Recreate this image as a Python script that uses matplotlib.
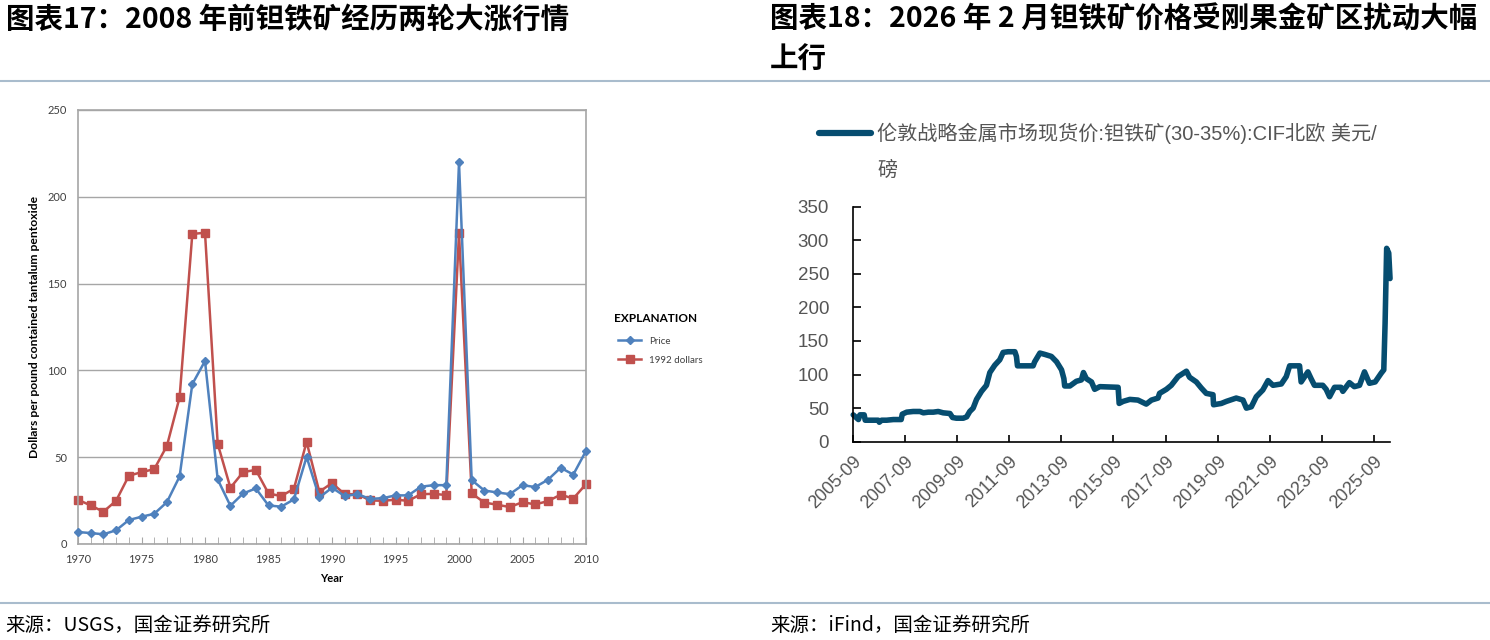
import matplotlib
matplotlib.use('Agg')
import matplotlib.pyplot as plt
from matplotlib.lines import Line2D

plt.rcParams['font.family'] = ['Liberation Sans', 'Noto Sans CJK SC', 'DejaVu Sans']

# ---- left chart data (USGS) ----
years = list(range(1970, 2011))
price = [6.9, 6.3, 5.6, 7.9, 13.8, 15.7, 17.4, 24.1, 38.9, 92.1,
         105.4, 37.2, 22.0, 29.1, 32.0, 22.2, 21.5, 25.7, 50.2, 26.8,
         32.4, 27.6, 28.7, 26.0, 26.4, 28.0, 28.0, 33.0, 33.9, 33.9,
         219.8, 36.8, 30.8, 29.7, 28.7, 33.9, 32.8, 37.0, 43.9, 40.0, 53.6]
dollars_1992 = [25.5, 22.2, 18.6, 24.9, 39.3, 41.4, 43.1, 56.5, 84.5, 178.6,
                179.3, 57.7, 32.4, 41.4, 42.7, 29.1, 27.6, 31.8, 58.8, 30.1,
                35.1, 28.7, 28.7, 25.1, 24.9, 25.5, 24.9, 28.7, 28.9, 28.2,
                179.0, 29.1, 23.9, 22.6, 21.3, 24.1, 22.8, 24.7, 28.4, 26.2, 34.5]

# ---- right chart data (iFind), decimal years ----
t_dates = [2005.77, 2005.97, 2006.03, 2006.19, 2006.23, 2006.73, 2006.77, 2006.86,
           2007.05, 2007.31, 2007.61, 2007.65, 2007.82, 2008.07, 2008.33, 2008.46,
           2008.65, 2008.84, 2009.03, 2009.22, 2009.48, 2009.58, 2009.73, 2009.99,
           2010.12, 2010.24, 2010.37, 2010.50, 2010.69, 2010.88, 2011.01, 2011.20,
           2011.39, 2011.52, 2011.71, 2011.97, 2012.03, 2012.07, 2012.67, 2012.73,
           2012.93, 2013.12, 2013.37, 2013.57, 2013.76, 2013.85, 2013.88, 2014.08,
           2014.33, 2014.52, 2014.60, 2014.71, 2014.91, 2015.03, 2015.23, 2015.93,
           2015.97, 2016.12, 2016.38, 2016.69, 2017.01, 2017.21, 2017.46, 2017.52,
           2017.78, 2017.97, 2018.23, 2018.55, 2018.67, 2018.93, 2019.12, 2019.31,
           2019.57, 2019.59, 2019.89, 2020.08, 2020.46, 2020.72, 2020.85, 2021.04,
           2021.23, 2021.48, 2021.68, 2021.87, 2022.19, 2022.38, 2022.51, 2022.89,
           2022.95, 2023.21, 2023.33, 2023.46, 2023.78, 2023.91, 2024.04, 2024.23,
           2024.48, 2024.55, 2024.80, 2024.99, 2025.19, 2025.38, 2025.57, 2025.79,
           2026.02, 2026.12, 2026.17, 2026.23, 2026.31, 2026.36]
t_price = [40, 33, 40, 40, 32, 32, 29, 32,
           32, 33, 33, 41, 44, 45, 45, 43,
           44, 44, 45, 43, 42, 36, 35, 35,
           37, 45, 50, 63, 75, 84, 103, 114,
           122, 133, 134, 134, 127, 113, 113, 119,
           132, 130, 127, 119, 107, 94, 83, 83,
           90, 92, 103, 94, 89, 78, 82, 81,
           57, 60, 63, 62, 56, 62, 65, 72,
           78, 84, 97, 105, 96, 89, 80, 72,
           70, 55, 57, 60, 65, 62, 50, 52,
           67, 77, 91, 84, 86, 97, 113, 113,
           89, 104, 94, 84, 84, 78, 67, 81,
           81, 75, 88, 82, 84, 104, 87, 89,
           102, 107, 176, 288, 281, 243]
t_ticks = [2005.75 + 2 * i for i in range(11)]
t_labels = ['2005-09', '2007-09', '2009-09', '2011-09', '2013-09', '2015-09',
            '2017-09', '2019-09', '2021-09', '2023-09', '2025-09']

W, H = 1490, 640
fig = plt.figure(figsize=(W / 100, H / 100), dpi=100)


def fx(x):
    return x / W


def fy(y):
    return 1 - y / H


# titles
cjk = ['Noto Sans CJK SC', 'DejaVu Sans']
fig.text(fx(6), fy(20), '图表17：2008 年前钽铁矿经历两轮大涨行情', fontsize=20.5,
         fontweight='bold', family=cjk, va='center', ha='left')
fig.text(fx(770), fy(20), '图表18：2026 年 2 月钽铁矿价格受刚果金矿区扰动大幅', fontsize=20.5,
         fontweight='bold', family=cjk, va='center', ha='left')
fig.text(fx(770), fy(60), '上行', fontsize=20.5, fontweight='bold', family=cjk,
         va='center', ha='left')

# separators
sep = '#A9BCCD'
fig.add_artist(Line2D([0, 1], [fy(81), fy(81)], color=sep, lw=1.5))
fig.add_artist(Line2D([0, 1], [fy(603), fy(603)], color=sep, lw=1.5))

# sources
fig.text(fx(5), fy(625), '来源：USGS，国金证券研究所', fontsize=14, family=cjk,
         va='center', ha='left')
fig.text(fx(770), fy(625), '来源：iFind，国金证券研究所', fontsize=14, family=cjk,
         va='center', ha='left')

# ---- left chart ----
ax1 = fig.add_axes([fx(78), fy(544), fx(586 - 78), (544 - 110) / H])
blue = '#4F81BD'
red = '#C0504D'
ax1.plot(years, price, color=blue, lw=1.8, marker='D', ms=4, clip_on=False,
         label='Price', zorder=3)
ax1.plot(years, dollars_1992, color=red, lw=1.8, marker='s', ms=6, clip_on=False,
         label='1992 dollars', zorder=2)
ax1.set_xlim(1970, 2010)
ax1.set_ylim(0, 250)
ax1.set_yticks(range(0, 251, 50))
ax1.set_xticks(range(1970, 2011, 5))
ax1.set_xticks(years, minor=True)
ax1.grid(axis='y', color='#A6A6A6', lw=1)
ax1.set_axisbelow(True)
for s in ax1.spines.values():
    s.set_color('#A6A6A6')
    s.set_linewidth(1.2)
ax1.tick_params(axis='y', length=0, pad=8, labelsize=8, labelcolor='#404040',
                labelfontfamily='Lato')
ax1.tick_params(axis='x', which='both', direction='in', length=5, color='#A6A6A6',
                pad=7, labelsize=8, labelcolor='#404040', labelfontfamily='Lato')
ax1.set_xlabel('Year', fontsize=8, fontweight='bold', family='Lato', labelpad=6)
ax1.set_ylabel('Dollars per pound contained tantalum pentoxide', fontsize=8.7,
               fontweight='bold', family='Lato', labelpad=5)
leg1 = ax1.legend(loc='upper left', bbox_to_anchor=((614 - 78) / 508, 1 - (333 - 110) / 434),
                  frameon=False, handlelength=2.4, labelspacing=1.0,
                  prop={'family': 'Lato', 'size': 7}, borderaxespad=0)
for txt in leg1.get_texts():
    txt.set_color('#404040')
fig.text(fx(614), fy(319), 'EXPLANATION', fontsize=8.5, fontweight='bold',
         family='Lato', va='center', ha='left')

# ---- right chart ----
ax2 = fig.add_axes([fx(852.7), fy(441.7), fx(1390.3 - 852.7), (441.7 - 206.7) / H])
navy = '#064D70'
ax2.plot(t_dates, t_price, color=navy, lw=4, solid_joinstyle='round',
         solid_capstyle='round', clip_on=False)
ax2.set_xlim(2005.75, 2026.37)
ax2.set_ylim(0, 350)
ax2.set_yticks(range(0, 351, 50))
ax2.set_xticks(t_ticks)
ax2.set_xticklabels(t_labels, rotation=45, ha='right', rotation_mode='anchor')
ax2.spines['top'].set_visible(False)
ax2.spines['right'].set_visible(False)
for s in ('left', 'bottom'):
    ax2.spines[s].set_color('black')
    ax2.spines[s].set_linewidth(1.2)
ax2.tick_params(axis='y', direction='in', length=6, width=1.2, pad=17,
                labelsize=13.5, labelcolor='#555555')
ax2.tick_params(axis='x', direction='in', length=5, width=1.2, pad=8,
                labelsize=13, labelcolor='#555555')

# right legend
fig.add_artist(Line2D([fx(819), fx(871)], [fy(133), fy(133)], color=navy, lw=4.5,
                      solid_capstyle='round'))
fig.text(fx(877), fy(133), '伦敦战略金属市场现货价:钽铁矿(30-35%):CIF北欧 美元/',
         fontsize=14.5, color='#555555', va='center', ha='left')
fig.text(fx(877), fy(170), '磅', fontsize=14.5, color='#555555', va='center',
         ha='left')

fig.savefig('out.png', dpi=100)
